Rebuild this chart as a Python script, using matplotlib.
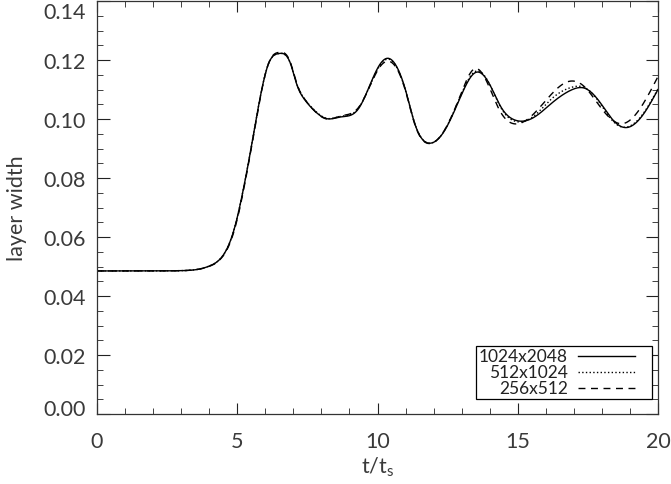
import numpy as np
import matplotlib.pyplot as plt
from matplotlib.ticker import MultipleLocator
from matplotlib.patches import Rectangle
from matplotlib.transforms import ScaledTranslation

# layer width vs time for three grid resolutions
t_hi = [0.0, 1.0, 2.0, 3.0, 3.5, 4.04, 4.51, 4.87, 5.23, 5.52, 5.82, 6.12, 6.48,
        6.89, 7.13, 7.37, 7.73, 8.2, 8.68, 9.33, 9.75, 10.05, 10.35, 10.75, 11.0,
        11.33, 11.87, 12.4, 12.96, 13.5, 14.04, 14.4, 14.86, 15.6, 16.2, 16.9,
        17.4, 17.96, 18.4, 18.86, 19.5, 20.0]
w_hi = [0.0485, 0.0485, 0.0485, 0.0486, 0.0489, 0.0503, 0.054, 0.062, 0.0768,
        0.0916, 0.1075, 0.1189, 0.1222, 0.1190, 0.1115, 0.1070, 0.1030, 0.1001,
        0.1007, 0.1036, 0.1120, 0.1180, 0.1206, 0.1165, 0.1098, 0.0984, 0.0918,
        0.0962, 0.1075, 0.1158, 0.1110, 0.1041, 0.0998, 0.1007, 0.1053, 0.1098,
        0.1104, 0.1053, 0.0996, 0.0971, 0.1019, 0.1100]

t_mid = [0.0, 1.0, 2.0, 3.0, 3.5, 4.04, 4.51, 4.87, 5.23, 5.52, 5.82, 6.12, 6.48,
         6.89, 7.13, 7.37, 7.73, 8.2, 8.68, 9.33, 9.75, 10.05, 10.35, 10.75, 11.0,
         11.33, 11.87, 12.4, 12.96, 13.5, 14.04, 14.4, 14.86, 15.6, 16.2, 16.9,
         17.4, 17.96, 18.4, 18.8, 19.5, 20.0]
w_mid = [0.0485, 0.0485, 0.0485, 0.0486, 0.0489, 0.0503, 0.054, 0.062, 0.0768,
         0.0916, 0.1075, 0.1189, 0.1222, 0.1190, 0.1117, 0.1072, 0.1032, 0.1002,
         0.1009, 0.1038, 0.1118, 0.1176, 0.1203, 0.1163, 0.1096, 0.0984, 0.0918,
         0.0963, 0.1078, 0.1162, 0.1110, 0.1038, 0.0994, 0.1012, 0.1068, 0.1107,
         0.1106, 0.1050, 0.0992, 0.0972, 0.1022, 0.1102]

t_lo = [0.0, 1.0, 2.0, 3.0, 3.5, 4.04, 4.51, 4.87, 5.23, 5.52, 5.82, 6.12, 6.48,
        6.89, 7.13, 7.37, 7.73, 8.2, 8.68, 9.33, 9.75, 10.05, 10.35, 10.75, 11.0,
        11.33, 11.87, 12.4, 12.96, 13.45, 14.0, 14.35, 14.86, 15.8, 16.8, 17.35,
        17.85, 18.7, 19.4, 20.0]
w_lo = [0.0485, 0.0485, 0.0485, 0.0486, 0.0489, 0.0502, 0.0538, 0.0615, 0.0762,
        0.0912, 0.1072, 0.1190, 0.1226, 0.1193, 0.1118, 0.1072, 0.1030, 0.1000,
        0.1010, 0.1040, 0.1116, 0.1172, 0.1196, 0.1160, 0.1095, 0.0982, 0.0917,
        0.0964, 0.1082, 0.1170, 0.1105, 0.1030, 0.0984, 0.1041, 0.1127, 0.1112,
        0.1053, 0.0984, 0.1041, 0.1144]

labels = ["1024x2048", "512x1024", "256x512"]


def smooth(t, w):
    # natural cubic spline through the read points
    t = np.asarray(t)
    w = np.asarray(w)
    tt = np.linspace(t[0], t[-1], 800)
    h = np.diff(t)
    n = len(t)
    A = np.zeros((n, n))
    b = np.zeros(n)
    A[0, 0] = A[-1, -1] = 1
    for i in range(1, n - 1):
        A[i, i - 1] = h[i - 1]
        A[i, i] = 2 * (h[i - 1] + h[i])
        A[i, i + 1] = h[i]
        b[i] = 6 * ((w[i + 1] - w[i]) / h[i] - (w[i] - w[i - 1]) / h[i - 1])
    M = np.linalg.solve(A, b)
    k = np.clip(np.searchsorted(t, tt) - 1, 0, n - 2)
    x0, x1 = t[k], t[k + 1]
    hk = h[k]
    ww = (M[k] * (x1 - tt) ** 3 / (6 * hk) + M[k + 1] * (tt - x0) ** 3 / (6 * hk)
          + (w[k] / hk - M[k] * hk / 6) * (x1 - tt)
          + (w[k + 1] / hk - M[k + 1] * hk / 6) * (tt - x0))
    return tt, ww


plt.rcParams['font.family'] = 'Lato'
plt.rcParams['mathtext.fontset'] = 'custom'
plt.rcParams['mathtext.rm'] = 'Lato'
txtcol = '#3a3a3a'

fig = plt.figure(figsize=(6.71, 4.85), dpi=100)
ax = fig.add_axes([0.1446, 0.1443, 0.836, 0.8515])

styles = ['-', ':', (0, (5, 4))]
for (t, w), ls in zip([(t_hi, w_hi), (t_mid, w_mid), (t_lo, w_lo)], styles):
    tt, ww = smooth(t, w)
    ax.plot(tt, ww, color='black', linestyle=ls, linewidth=1.0)

ax.set_xlim(0, 20)
ax.set_ylim(0, 0.14)
ax.xaxis.set_major_locator(MultipleLocator(5))
ax.xaxis.set_minor_locator(MultipleLocator(1))
ax.yaxis.set_major_locator(MultipleLocator(0.02))
ax.yaxis.set_minor_locator(MultipleLocator(0.005))
ax.yaxis.set_major_formatter(plt.FuncFormatter(lambda v, p: f"{v:.2f}"))
ax.tick_params(which='both', direction='in', top=True, right=True,
               labelsize=15.5, colors='#222222', labelcolor=txtcol)
ax.tick_params(axis='y', which='major', length=9, pad=8)
ax.tick_params(axis='x', which='major', length=8, pad=12)
ax.tick_params(which='minor', length=4.5)
for s in ax.spines.values():
    s.set_linewidth(0.9)
    s.set_color('#333333')

# end labels on the y axis are nudged inward, as in the original
fig.canvas.draw()
for lab in ax.get_yticklabels():
    v = lab.get_position()[1]
    dy = -6.5 if abs(v - 0.14) < 1e-6 else (5 if abs(v) < 1e-6 else 0)
    if dy:
        lab.set_transform(lab.get_transform() + ScaledTranslation(0, dy / 72, fig.dpi_scale_trans))

ax.set_xlabel("t/t$_\\mathregular{s}$", fontsize=15.5, color=txtcol, labelpad=3)
ax.set_ylabel("layer width", fontsize=15.5, color=txtcol, labelpad=12)

# legend box drawn by hand so labels are right-aligned like the original
ax.add_patch(Rectangle((0.6756, 0.0364), 0.3137, 0.1286, transform=ax.transAxes,
                       fill=True, facecolor='white', edgecolor='black',
                       linewidth=0.9, zorder=5))
rows = [0.1408, 0.1019, 0.0631]
for lab, ls, yy in zip(labels, styles, rows):
    ax.text(0.8396, yy, lab, transform=ax.transAxes, ha='right', va='center',
            fontsize=12.5, color='#222222', zorder=6)
    ax.plot([0.8574, 0.959], [yy, yy], transform=ax.transAxes, color='black',
            linestyle=ls, linewidth=1.0, zorder=6)

fig.savefig("out.png", dpi=100)
